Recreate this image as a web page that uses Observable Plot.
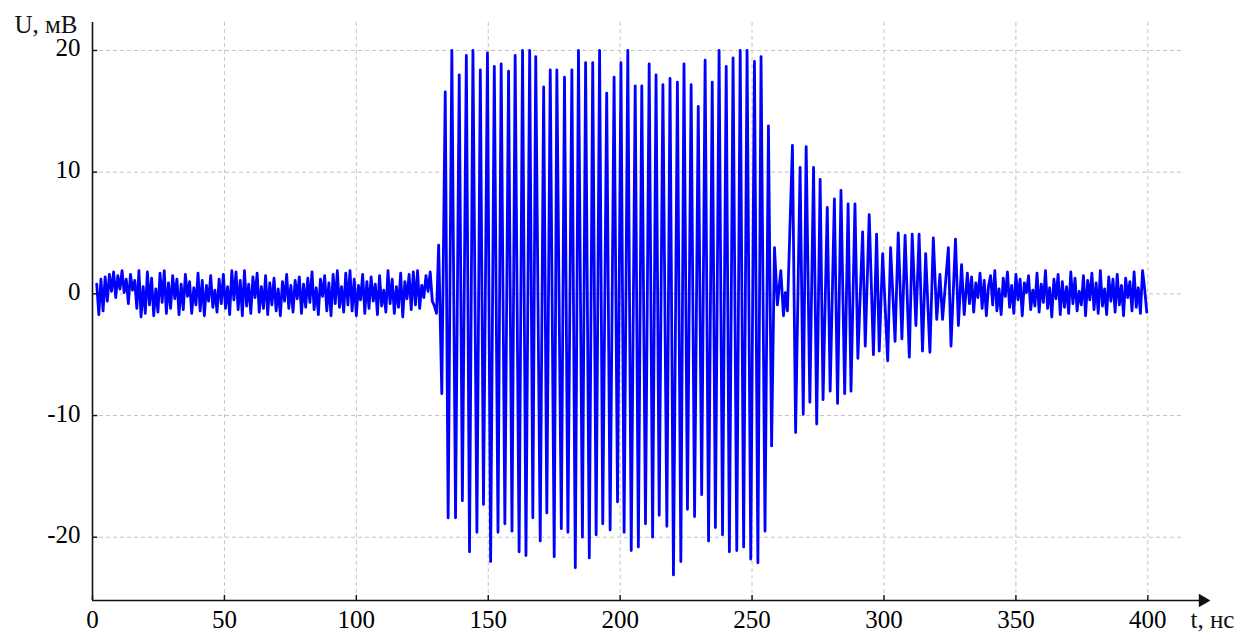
<!DOCTYPE html>
<html>
<head>
<meta charset="utf-8">
<script src="https://cdn.jsdelivr.net/npm/d3@7"></script>
<script src="https://cdn.jsdelivr.net/npm/@observablehq/plot@0.6"></script>
<style>
  html, body { margin: 0; padding: 0; background: #fff; overflow: hidden; }
  #chart svg { display: block; }
</style>
</head>
<body>
<div id="chart"></div>
<script>
// ---- data (t in ns, U in mV) ----
const xTicks = [0, 50, 100, 150, 200, 250, 300, 350, 400];
const yTicks = [-20, -10, 0, 10, 20];
const xLabel = "t, нс";
const yLabel = "U, мВ";

// background noise before the pulse, sampled every 0.8 ns from t = 1.6
const preNoiseStart = 1.6;
const noiseStep = 0.8;
const preNoise = [
  0.8, -1.7, 1.2, -1.4, 1.4, -0.6, 1.6, 0.2, 1.8, -0.3,
  1.5, 0.4, 1.9, 0.1, 1.2, -0.8, 1.6, 0.3, 1.1, -1.2,
  1.9, -1.9, 0.6, -1.6, 1.8, -0.9, 1.3, -1.8, 0.4, -1.5,
  1.7, -0.7, 1.9, -1.6, 0.9, -1.2, 1.5, -0.4, 1.2, -1.7,
  0.8, -1.3, 1.6, -0.2, 1.0, -1.6, 0.5, -0.9, 1.7, -1.4,
  1.1, -1.8, 0.7, -0.6, 1.5, -1.1, 0.3, -1.5, 1.2, -0.8,
  1.6, -1.2, 0.6, -1.7, 1.9, -0.5, 1.8, -1.3, 1.1, -1.8,
  1.9, -1.0, 0.8, -1.6, 1.4, -0.3, 1.7, -1.5, 0.6, -1.2,
  1.5, -1.7, 0.9, -0.9, 1.3, -1.4, 0.4, -1.8, 1.0, -0.6,
  1.6, -1.2, 0.7, -1.5, 1.1, -0.4, 1.4, -1.6, 0.8, -1.1,
  1.3, -0.7, 1.8, -1.3, 0.5, -1.7, 1.2, -0.2, 1.5, -1.4,
  0.9, -1.8, 1.6, -0.8, 1.9, -1.1, 0.6, -1.5, 1.7, -0.9,
  1.9, -1.4, 1.2, -1.8, 0.7, -0.5, 1.6, -1.6, 1.0, -1.2,
  1.4, -0.6, 0.8, -1.7, 1.5, -1.0, 0.3, -1.5, 1.9, -0.8,
  1.2, -1.6, 0.6, -1.1, 1.7, -1.9, 1.0, -0.4, 1.6, -1.3,
  1.8, -0.9, 1.9, -1.2, 0.7, -0.3, 1.5, 0.2, 1.8, -0.6,
  -1.0, -1.6
];

// pulse: extrema
const burstT = [
  131.2, 132.4, 133.7, 134.8, 136.2, 137.6, 139.0, 140.2, 141.7, 142.9,
  144.2, 145.7, 147.0, 148.2, 149.7, 150.9, 152.3, 153.7, 154.9, 156.3,
  157.7, 159.0, 160.2, 161.7, 163.0, 164.3, 165.7, 166.9, 168.0, 169.7,
  171.0, 172.2, 173.5, 175.0, 176.0, 177.7, 178.9, 180.2, 181.7, 183.0,
  184.2, 185.7, 186.9, 188.3, 189.6, 190.9, 192.2, 193.4, 194.9, 196.2,
  197.7, 199.0, 200.3, 201.5, 202.9, 204.2, 205.7, 206.9, 208.2, 209.6,
  211.0, 212.3, 213.6, 214.8, 216.2, 217.7, 218.9, 220.2, 221.7, 223.0,
  224.2, 225.5, 226.9, 228.2, 229.6, 230.9, 232.2, 233.5, 234.9, 236.1,
  237.5, 238.8, 240.2, 241.4, 242.8, 244.2, 245.5, 246.8, 248.1, 249.5,
  250.9, 252.2, 253.4, 254.9, 256.2, 257.4, 258.5, 259.6, 260.9, 261.9,
  262.6, 263.4, 265.3, 266.5, 268.2, 269.4, 270.5, 271.9, 273.3, 274.5,
  275.8, 276.9, 278.5, 279.6, 281.2, 282.4, 283.7, 285.1, 286.4, 287.5,
  289.0, 290.1, 291.9, 292.9, 294.4, 296.0, 297.2, 298.2, 299.5, 301.4,
  302.5, 304.2, 305.4, 306.8, 308.0, 309.6, 310.7, 312.1, 313.3, 314.6,
  315.8, 317.4, 318.7, 320.0, 321.2, 322.2, 324.4, 325.4, 327.1, 328.2,
  329.4, 330.4, 331.6
];
const burstU = [
  4.0, -8.2, 16.6, -18.4, 20.0, -18.4, 18.0, -17.0, 19.6, -21.2,
  20.0, -19.6, 18.4, -17.3, 19.8, -22.0, 18.7, -19.6, 18.9, -18.9,
  18.3, -19.5, 19.6, -21.2, 20.0, -21.5, 20.0, -18.4, 19.5, -20.3,
  17.0, -18.0, 18.4, -21.6, 18.4, -19.3, 17.8, -19.6, 18.4, -22.5,
  20.0, -20.0, 19.0, -21.7, 19.0, -19.8, 20.0, -18.9, 16.5, -19.4,
  17.8, -17.1, 19.0, -19.6, 20.0, -21.1, 17.1, -20.8, 17.1, -18.9,
  18.9, -20.0, 18.0, -18.2, 17.2, -19.1, 17.7, -23.1, 17.4, -22.0,
  18.9, -17.7, 17.2, -18.3, 15.4, -16.5, 19.2, -20.3, 17.4, -19.2,
  20.0, -19.8, 18.7, -21.2, 19.4, -21.1, 20.0, -20.8, 20.0, -21.8,
  19.1, -22.1, 19.5, -19.5, 13.8, -12.5, 3.8, -0.9, 1.9, -1.8,
  0.1, -1.4, 12.2, -11.4, 10.4, -9.9, 12.1, -8.9, 10.4, -10.7,
  9.4, -8.7, 7.1, -8.0, 7.8, -9.0, 8.5, -8.2, 7.4, -8.0,
  7.4, -5.3, 5.1, -4.3, 6.5, -5.0, 4.9, -4.7, 3.3, -5.5,
  3.8, -3.9, 5.0, -3.7, 4.8, -5.2, 4.9, -2.6, 4.9, -4.7,
  3.3, -4.8, 4.6, -2.1, 1.6, -2.1, 3.8, -4.3, 4.5, -2.6,
  2.4, -1.7, 1.7
];

// background noise after the pulse, every 0.8 ns from t = 332.4
const postNoiseStart = 332.4;
const postNoise = [
  -0.8, 1.4, -1.5, 0.9, -0.3, 1.7, -1.2, 1.1, -1.8, 0.6,
  1.5, -0.9, 1.9, -1.4, 0.4, -1.7, 1.3, -0.2, 1.8, -1.1,
  0.7, -1.6, 1.6, -0.5, 1.2, -1.8, 0.9, 0.1, 1.5, -1.3,
  0.3, -1.0, 1.7, -1.5, 0.8, -0.7, 1.9, -1.2, 0.5, -1.9,
  1.2, -0.4, 1.6, -1.7, 1.0, -1.1, 0.6, -1.6, 1.8, -0.8,
  1.3, -1.4, 0.2, -0.9, 1.5, -1.8, 1.1, -0.5, 1.7, -1.3,
  0.9, -1.6, 1.9, -1.0, 0.4, -1.7, 1.4, -0.6, 1.2, -1.5,
  1.6, -0.9, 0.7, -1.8, 1.3, -0.3, 1.0, -1.4, 1.8, -1.1,
  0.5, -1.6, 1.9, 0.4, -1.5
];

// ---- build the table ----
const signal = [
  ...preNoise.map((u, i) => ({t: preNoiseStart + i * noiseStep, u})),
  ...burstT.map((t, i) => ({t, u: burstU[i]})),
  ...postNoise.map((u, i) => ({t: postNoiseStart + i * noiseStep, u}))
];

// axis extents (data units)
const xMin = 0, xGridEnd = 414, xAxisEnd = 423;
const yMin = -25.2, yMax = 22.3;

const font = "'Liberation Serif', 'Times New Roman', serif";
const fs = 25;
const grid = {stroke: "#c4c4c4", strokeWidth: 1, strokeDasharray: "4,3"};

const chart = Plot.plot({
  width: 1242,
  height: 632,
  marginTop: 22,
  marginBottom: 32,
  marginLeft: 92,
  marginRight: 34,
  style: {fontFamily: font, fontSize: fs + "px", background: "#fff", color: "#000"},
  x: {domain: [xMin, xAxisEnd], axis: null},
  y: {domain: [yMin, yMax], axis: null},
  marks: [
    // grid
    Plot.ruleY(yTicks, {x1: xMin, x2: xGridEnd, ...grid}),
    Plot.ruleX(xTicks.filter(d => d !== 0), {y1: yMin, y2: yMax, ...grid}),
    // signal
    Plot.line(signal, {x: "t", y: "u", stroke: "#0000ff", strokeWidth: 2.8,
      strokeLinejoin: "round", strokeLinecap: "round"}),
    // axis lines
    Plot.ruleX([xMin], {y1: yMin, y2: yMax, stroke: "#111", strokeWidth: 1.6}),
    Plot.ruleY([yMin], {x1: xMin, x2: xAxisEnd - 1.5, stroke: "#111", strokeWidth: 1.6}),
    Plot.dot([xAxisEnd], {x: d => d - 2.2, y: () => yMin, symbol: "triangle", r: 5,
      rotate: 90, fill: "#111", stroke: "none"}),
    // inward ticks
    Plot.ruleY(yTicks, {x1: xMin, x2: xMin + 2, stroke: "#111", strokeWidth: 1.4}),
    Plot.ruleX(xTicks, {y1: yMin, y2: yMin + 0.42, stroke: "#111", strokeWidth: 1.4}),
    // tick labels
    Plot.axisY({ticks: yTicks, tickSize: 0, tickPadding: 12, dy: -2, label: null,
      tickFormat: d => String(d), fontSize: fs, fontFamily: font}),
    Plot.axisX({ticks: xTicks, tickSize: 0, tickPadding: 10, label: null,
      tickFormat: d => String(d), fontSize: fs, fontFamily: font}),
    // axis titles
    Plot.text([yLabel], {frameAnchor: "top-left", text: d => d, textAnchor: "end",
      lineAnchor: "bottom", dx: -15, dy: 10, fontSize: fs, fontFamily: font, fill: "#111"}),
    Plot.text([xLabel], {frameAnchor: "bottom-right", text: d => d, textAnchor: "start",
      lineAnchor: "bottom", dx: -18, dy: 27, fontSize: fs, fontFamily: font, fill: "#111"})
  ]
});
document.getElementById("chart").appendChild(chart);
</script>
</body>
</html>
